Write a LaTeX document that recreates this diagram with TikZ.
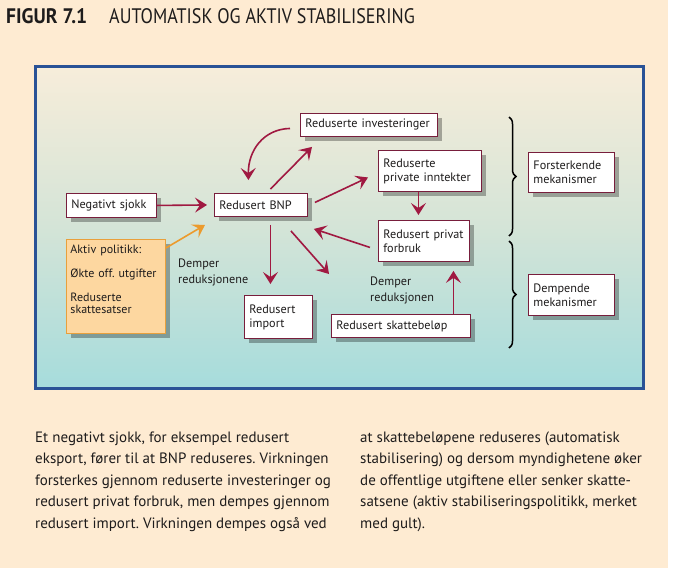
\documentclass[tikz,border=0pt]{standalone}
\usepackage{fontspec}
\setmainfont{PT Sans}
\newfontfamily\titlefont[FakeStretch=0.86]{PT Sans}
\newfontfamily\titlebold[FakeStretch=0.93]{PT Sans Bold}
\usetikzlibrary{arrows.meta,shadows,decorations.pathreplacing,calc}
\frenchspacing
\definecolor{peach}{RGB}{254,235,210}
\definecolor{frameblue}{RGB}{42,82,150}
\definecolor{gradtop}{RGB}{247,237,218}
\definecolor{gradbot}{RGB}{166,220,220}
\definecolor{boxred}{RGB}{120,30,60}
\definecolor{arrred}{RGB}{160,25,65}
\definecolor{orfill}{RGB}{253,215,160}
\definecolor{orline}{RGB}{232,160,60}
\definecolor{orarrow}{RGB}{236,155,45}
\definecolor{txt}{RGB}{30,28,28}
\tikzset{
  box/.style={draw=boxred, fill=white, line width=0.9pt, inner xsep=5pt, inner ysep=2pt,
    align=left, anchor=north west, text=txt,
    font=\frenchspacing\fontsize{12.2}{14}\selectfont,
    drop shadow={shadow xshift=4.5pt, shadow yshift=-4.5pt, fill=black, opacity=0.3}},
  orbox/.style={box, draw=orline, fill=orfill},
  arr/.style={draw=arrred, line width=1.6pt, -{Stealth[length=12pt,width=15pt,inset=5pt]}},
  orarr/.style={arr, draw=orarrow},
  lbl/.style={inner sep=0pt, anchor=base west, align=left, text=txt,
    font=\fontsize{12.2}{15.5}\selectfont},
  capt/.style={inner sep=0pt, anchor=base west, align=left, text=txt,
    font=\frenchspacing\fontsize{15}{21.5}\selectfont},
  bracestyle/.style={draw=black, line width=1.5pt, decorate,
    decoration={brace, amplitude=7pt}}
}
\begin{document}
\begin{tikzpicture}[x=1pt,y=-1pt]
\useasboundingbox (0,0) rectangle (682,568);
\fill[white] (0,0) rectangle (682,568);
\fill[peach] (0,0) rectangle (668,568);
% title
\node[inner sep=0pt, anchor=base west, text=txt, font=\titlebold\fontsize{21}{23}\selectfont] (tnum) at (6,23) {FIGUR 7.1};
\node[inner sep=0pt, anchor=base west, text=txt, font=\titlefont\fontsize{21}{23}\selectfont] (ttl) at (109,23) {AUTOMATISK OG AKTIV STABILISERING};
% frame
\shade[top color=gradtop, bottom color=gradbot, middle color={rgb,255:red,212;green,228;blue,215}] (35,66) rectangle (643,388);
\draw[frameblue, line width=3pt] (35,66) rectangle (643,388);
% boxes
\node[box, text width=127pt, minimum height=23pt] (inv) at (300,113) {Reduserte investeringer};
\node[box, text width=93pt, minimum height=41pt] (inn) at (378,150) {Reduserte\\private inntekter};
\node[box, text width=80pt, minimum height=24pt] (neg) at (66,193) {Negativt sjokk};
\node[box, text width=83pt, minimum height=23pt] (bnp) at (214,193) {Redusert BNP};
\node[box, text width=81pt, minimum height=41pt] (forb) at (378,220) {Redusert privat\\forbruk};
\node[box, text width=58pt, minimum height=43pt] (imp) at (244,295) {Redusert\\import};
\node[box, text width=129pt, minimum height=23pt] (skatt) at (331,314) {Redusert skattebeløp};
\node[box, text width=76pt, minimum height=40pt] (fors) at (528,152) {Forsterkende\\mekanismer};
\node[box, text width=76pt, minimum height=41pt] (demp) at (528,274) {Dempende\\mekanismer};
\node[orbox, text width=91pt, inner xsep=4pt, minimum height=94pt, font=\frenchspacing\fontsize{12}{12.5}\selectfont] (akt) at (66,239)
  {Aktiv politikk:\\[12pt]\mbox{Økte off.\ utgifter}\\[11pt]Reduserte\\skattesatser\rule[-14pt]{0pt}{14pt}};
% labels (base = last line)
\node[lbl] (l1) at (178,283) {Demper\\reduksjonene};
\node[lbl] (l2) at (370,301) {Demper\\reduksjonen};
% braces
\coordinate (b1t) at (509,117);
\coordinate (b1b) at (509,236);
\coordinate (b2t) at (509,241);
\coordinate (b2b) at (509,348);
\draw[bracestyle] (b1t) -- (b1b);
\draw[bracestyle] (b2t) -- (b2b);
% arrows
\draw[arr] (neg.east) -- ([xshift=-7pt]bnp.west);
\draw[orarr] ([yshift=-9pt]akt.north east) -- ([xshift=-9pt,yshift=-8pt]bnp.south west);
\draw[arr] ([xshift=9.5pt,yshift=4pt]bnp.north) -- ([xshift=12pt,yshift=-10pt]inv.south west);
\draw[arr] ([xshift=-10pt,yshift=-3.5pt]inv.west) .. controls (264,129) and (248,150) .. ([xshift=-12.5pt,yshift=13pt]bnp.north);
\draw[arr] ([xshift=7pt,yshift=2.5pt]bnp.east) -- ([xshift=-10pt,yshift=-6.5pt]inn.west);
\draw[arr] ([xshift=-11.5pt]inn.south) -- ([xshift=-5.5pt,yshift=5pt]forb.north);
\draw[arr] ([xshift=-8pt,yshift=-6.5pt]forb.west) -- ([xshift=6pt,yshift=-12pt]bnp.south east);
\draw[arr] ([xshift=9.5pt,yshift=-8pt]bnp.south) -- ([xshift=-8pt,yshift=11pt]imp.north);
\coordinate (dg) at (329,274);
\draw[arr] ([xshift=-17pt,yshift=-14pt]bnp.south east) -- (dg);
\draw[arr] ([xshift=52.5pt]skatt.north) -- ([xshift=29.5pt,yshift=-9pt]forb.south);
% caption (base = last line)
\node[capt] (c1) at (35,528) {Et negativt sjokk, for eksempel redusert\\eksport, fører til at BNP reduseres. Virkningen\\forsterkes gjennom reduserte investeringer og\\redusert privat forbruk, men dempes gjennom\\redusert import. Virkningen dempes også ved};
\node[capt] (c2) at (360,528) {at skattebeløpene reduseres (automatisk\\stabilisering) og dersom myndighetene øker\\de offentlige utgiftene eller senker skatte-\\satsene (aktiv stabiliseringspolitikk, merket\\med gult).};
\end{tikzpicture}
\end{document}
